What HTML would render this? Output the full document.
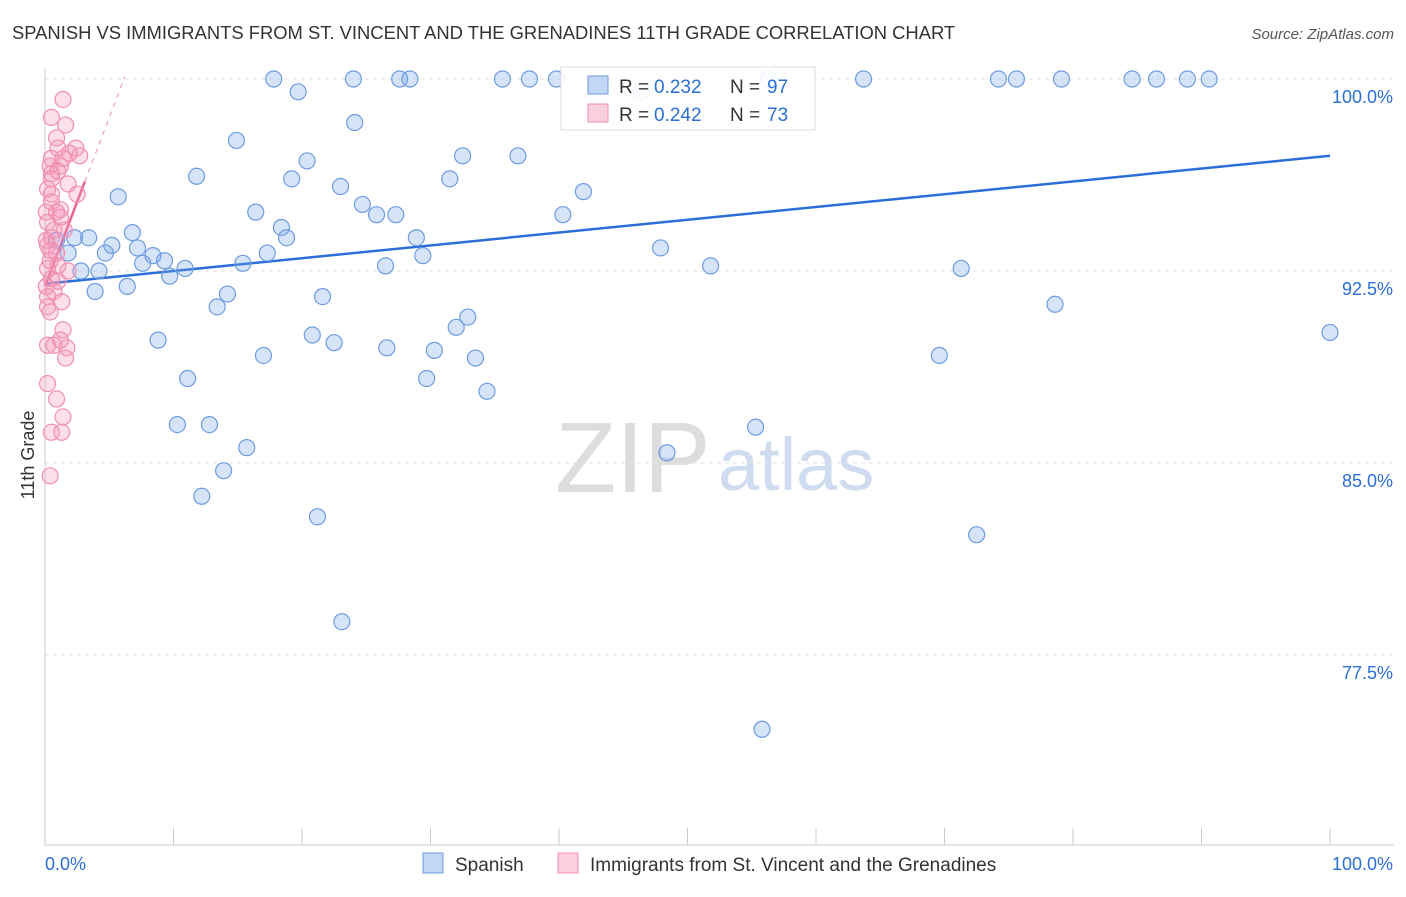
<!DOCTYPE html>
<html><head><meta charset="utf-8"><style>
body{margin:0;background:#fff;font-family:"Liberation Sans",sans-serif}
svg text{font-family:"Liberation Sans",sans-serif}
</style></head><body>
<svg id="chart" width="1406" height="892" viewBox="0 0 1406 892">
<text x="12" y="39" font-size="18.4" fill="#333">SPANISH VS IMMIGRANTS FROM ST. VINCENT AND THE GRENADINES 11TH GRADE CORRELATION CHART</text>
<text x="1394" y="39" font-size="15" fill="#555" text-anchor="end" font-style="italic">Source: ZipAtlas.com</text>
<g>
<text x="555" y="492" font-size="100" fill="#ddd" font-family="Liberation Serif">ZIP</text>
<text x="718" y="490" font-size="74" fill="#cfdcf0">atlas</text>
</g>
<g id="grid"></g><g id="axes"></g><g id="lines"></g><g id="pts"></g>
<text transform="translate(34,455) rotate(-90)" font-size="18" fill="#333" text-anchor="middle">11th Grade</text>
<g>
<rect x="561" y="67" width="254" height="63" fill="#fff" fill-opacity="0.9" stroke="#ddd"/>
<rect x="588" y="76" width="20" height="18" fill="rgba(120,165,235,0.45)" stroke="#6e9be0"/>
<rect x="588" y="104" width="20" height="18" fill="rgba(245,150,185,0.45)" stroke="#f08fb0"/>
<text x="619" y="93" font-size="19" fill="#333">R =</text>
<text x="654" y="93" font-size="19" fill="#2a6fd6">0.232</text>
<text x="730" y="93" font-size="19" fill="#333">N =</text>
<text x="767" y="93" font-size="19" fill="#2a6fd6">97</text>
<text x="619" y="121" font-size="19" fill="#333">R =</text>
<text x="654" y="121" font-size="19" fill="#2a6fd6">0.242</text>
<text x="730" y="121" font-size="19" fill="#333">N =</text>
<text x="767" y="121" font-size="19" fill="#2a6fd6">73</text>
</g>
<g>
<rect x="423" y="853" width="20" height="20" fill="rgba(120,165,235,0.45)" stroke="#6e9be0"/>
<text x="455" y="871" font-size="19" fill="#333">Spanish</text>
<rect x="558" y="853" width="20" height="20" fill="rgba(245,150,185,0.45)" stroke="#f08fb0"/>
<text x="590" y="871" font-size="19" fill="#333">Immigrants from St. Vincent and the Grenadines</text>
</g>
</svg>
<script>
const blueX=[17.8,19.7,24.0,27.6,28.4,35.6,37.7,39.8,46.4,56.3,63.7,74.2,75.6,79.1,84.6,86.5,88.9,90.6,14.9,24.1,32.5,36.8,20.4,11.8,19.2,23.0,31.5,41.9,5.7,24.7,16.4,25.8,27.3,40.3,18.4,18.8,6.8,2.3,3.4,0.9,5.2,28.9,1.8,4.7,7.2,17.3,8.4,9.3,7.6,15.4,29.4,10.9,26.5,9.7,2.8,4.2,47.9,51.8,71.3,3.9,6.4,14.2,21.6,13.4,32.9,32.0,78.6,100,20.8,22.5,8.8,17.0,26.6,30.3,33.5,69.6,11.1,29.7,34.4,10.3,12.8,55.3,15.7,48.4,13.9,12.2,21.2,72.5,23.1,55.8];
const blueY=[100,99.5,100,100,100,100,100,100,99.5,100,100,100,100,100,100,100,100,100,97.6,98.3,97.0,97.0,96.8,96.2,96.1,95.8,96.1,95.6,95.4,95.1,94.8,94.7,94.7,94.7,94.2,93.8,94.0,93.8,93.8,93.7,93.5,93.8,93.2,93.2,93.4,93.2,93.1,92.9,92.8,92.8,93.1,92.6,92.7,92.3,92.5,92.5,93.4,92.7,92.6,91.7,91.9,91.6,91.5,91.1,90.7,90.3,91.2,90.1,90.0,89.7,89.8,89.2,89.5,89.4,89.1,89.2,88.3,88.3,87.8,86.5,86.5,86.4,85.6,85.4,84.7,83.7,82.9,82.2,78.8,74.6];
const pinkX=[1.4,0.5,1.6,0.9,2.4,2.7,0.5,1.4,0.4,1.2,0.5,1.0,1.8,0.2,0.5,2.5,0.5,0.1,0.9,1.2,0.2,1.5,0.5,0.2,0.9,0.4,1.0,1.8,0.2,0.5,1.0,0.1,0.7,0.2,1.3,0.2,0.4,1.4,1.2,0.2,0.7,1.7,1.6,0.2,0.9,1.4,0.5,1.3,0.4,1.9,1.0,0.7,0.4,0.1,1.2,0.5];
const pinkY=[99.2,98.5,98.2,97.7,97.3,97.0,96.9,96.9,96.6,96.6,96.3,96.4,95.9,95.7,95.5,95.5,95.2,94.8,94.8,94.6,94.4,94.1,93.8,93.5,93.2,92.9,92.7,92.5,92.6,92.2,92.1,91.9,91.7,91.5,91.3,91.1,90.9,90.2,89.8,89.6,89.6,89.5,89.1,88.1,87.5,86.8,86.2,86.2,84.5,97.1,97.3,94.1,93.3,93.7,94.9,96.1];
const blueTrend=[92.0,97.0];
const pinkTrend=[91.9,1.32];
const yTicks=[100,92.5,85,77.5];
const yTickLabels=["100.0%","92.5%","85.0%","77.5%"];
const xLabels=["0.0%","100.0%"];
const NS="http://www.w3.org/2000/svg";
const X=v=>45+v*12.85, Y=v=>79+(100-v)*25.6;
function mk(tag,attrs,parent){const e=document.createElementNS(NS,tag);for(const k in attrs)e.setAttribute(k,attrs[k]);document.getElementById(parent).appendChild(e);return e;}
yTicks.forEach((t,i)=>{
 const l=mk('line',{x1:45,x2:1394,y1:Y(t),y2:Y(t),stroke:'#e2e2e2','stroke-dasharray':'4,4'},'grid');
 
 
 const tx=mk('text',{x:1393,y:Y(t)+24,'font-size':18,fill:'#2a6fd6','text-anchor':'end'},'grid');
 tx.textContent=yTickLabels[i];
 
 
});
const ax=mk('line',{x1:45,x2:1394,y1:845,y2:845,stroke:'#ccc'},'axes');


const ay=mk('line',{x1:45,x2:45,y1:68,y2:845,stroke:'#ccc'},'axes');


for(let i=0;i<=10;i++){const t=mk('line',{x1:X(i*10),x2:X(i*10),y1:828,y2:845,stroke:'#ccc'},'axes');
 
 }
const xl0=mk('text',{x:45,y:870,'font-size':18,fill:'#2a6fd6'},'axes');xl0.textContent=xLabels[0];


const xl1=mk('text',{x:1393,y:870,'font-size':18,fill:'#2a6fd6','text-anchor':'end'},'axes');xl1.textContent=xLabels[1];


const bl=mk('line',{x1:X(0),y1:Y(blueTrend[0]),x2:X(100),y2:Y(blueTrend[1]),stroke:'#2a6fd6','stroke-width':2.5},'lines');


const pd=mk('line',{x1:X(3.1),y1:Y(pinkTrend[0]+pinkTrend[1]*3.1),x2:X(6.2),y2:Y(pinkTrend[0]+pinkTrend[1]*6.2),stroke:'#f0a0bb','stroke-width':1.2,'stroke-dasharray':'5,5'},'lines');


const pl=mk('line',{x1:X(0),y1:Y(pinkTrend[0]),x2:X(3.1),y2:Y(pinkTrend[0]+pinkTrend[1]*3.1),stroke:'#e8648f','stroke-width':2.5},'lines');


blueX.forEach((v,i)=>{const c=mk('circle',{cx:X(v),cy:Y(blueY[i]),r:8,fill:'rgba(120,165,235,0.3)',stroke:'#6e9be0','stroke-width':1.2},'pts');
 
 });
pinkX.forEach((v,i)=>{const c=mk('circle',{cx:X(v),cy:Y(pinkY[i]),r:8,fill:'rgba(245,150,185,0.3)',stroke:'#f08fb0','stroke-width':1.2},'pts');
 
 });
</script>
</body></html>
